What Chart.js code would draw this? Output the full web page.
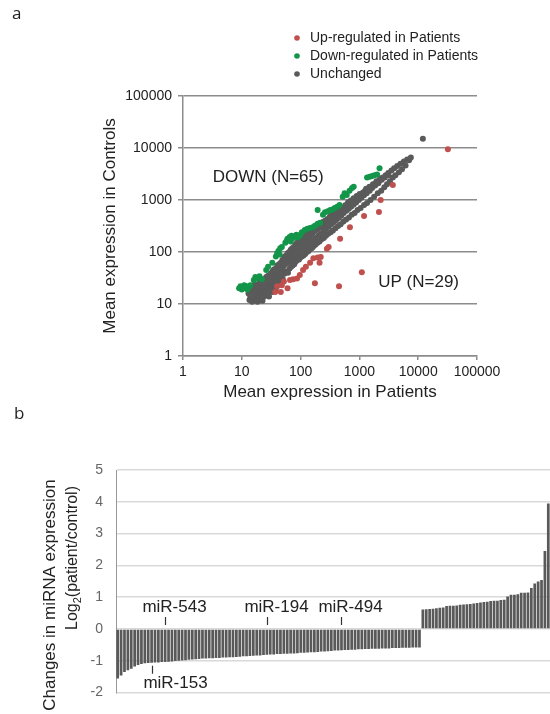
<!DOCTYPE html>
<html>
<head>
<meta charset="utf-8">
<script src="https://cdn.jsdelivr.net/npm/chart.js@4.4.1/dist/chart.umd.min.js"></script>
<style>
  html, body { margin: 0; padding: 0; background: #fff; }
  #wrap { position: relative; width: 550px; height: 714px; overflow: hidden; }
  #scatterBox { position: absolute; left: 0; top: 0; width: 550px; height: 410px; }
  #barBox { position: absolute; left: 0; top: 400px; width: 550px; height: 314px; }
</style>
</head>
<body>
<div id="wrap">
  <div id="scatterBox"><canvas id="scatterChart"></canvas></div>
  <div id="barBox"><canvas id="barChart"></canvas></div>
</div>
<script>
// ---- panel a: mean expression, [patients, controls] ----
const logTicks = [1, 10, 100, 1000, 10000, 100000];
const seriesNames = ['Up-regulated in Patients', 'Down-regulated in Patients', 'Unchanged'];

const upPoints = [
  [32000, 9500], [3700, 1950], [2300, 1000], [2150, 590], [1200, 490], [690, 300],
  [470, 180], [300, 125], [280, 115], [1100, 41], [450, 22], [175, 25],
  [165, 76], [195, 78], [220, 80], [210, 62], [145, 62], [123, 52], [110, 45],
  [97, 36], [87, 31], [75, 30], [66, 29], [52, 27], [48, 23], [60, 20],
  [37, 17], [46, 17], [40, 22]
];

const downPoints = [
  [9, 20], [9.5, 22], [10, 19], [10.5, 21], [11, 23], [11.5, 20], [12, 22], [12.5, 19], [13, 21], [14, 23],
  [16, 29], [17, 33], [18, 31], [20, 34], [22, 30], [26, 45], [28, 52], [33, 62],
  [38, 82], [40, 95], [42, 105], [44, 90], [45, 118], [48, 125],
  [55, 150], [58, 165], [60, 180], [63, 170], [65, 195], [68, 160], [70, 205], [75, 185],
  [80, 200], [85, 215], [90, 190], [98, 210], [105, 240],
  [118, 265], [130, 280], [145, 290], [160, 300], [175, 320], [195, 350], [215, 365],
  [195, 640], [240, 520], [260, 580], [290, 610], [320, 640], [350, 660], [380, 700], [420, 740], [460, 800],
  [520, 1150], [560, 1350], [610, 1250], [680, 1500], [750, 1700], [800, 1800],
  [1350, 2700], [1500, 2800], [1650, 2900], [1800, 3000], [2000, 3100], [2200, 4100]
];

const unchangedPoints = [
  [13, 16], [13.5, 12], [14, 19], [14, 14], [15, 11], [15, 17], [15.5, 21], [16, 13], [16, 16], [16.5, 24],
  [17, 12], [17, 19], [18, 15], [18, 22], [18.5, 11], [19, 18], [19, 14], [20, 25], [20, 12], [20, 20],
  [21, 16], [21, 27], [22, 13], [22, 21], [22.5, 11.5], [23, 24], [23, 17], [24, 30], [24, 14], [25, 19],
  [25, 26], [26, 15], [26, 33], [27, 21], [27, 28], [28, 17], [28, 35], [29, 24], [29, 14], [30, 31], [30, 19],
  [31, 38], [31, 22], [32, 27], [33, 17], [33, 42], [34, 30], [35, 22], [35, 46], [36, 33], [37, 25],
  [38, 48], [38, 20], [39, 36], [40, 28], [40, 55], [41, 23], [42, 40], [43, 58], [44, 30], [45, 50], [45, 26],
  [46, 62], [47, 34], [48, 44], [49, 70], [50, 30], [51, 55], [52, 80], [53, 38], [55, 62], [56, 85],
  [57, 42], [58, 72], [60, 95], [61, 40], [62, 66], [64, 100], [65, 48], [66, 80], [68, 110], [69, 52], [70, 88],
  [72, 118], [73, 55], [75, 95], [77, 125], [78, 58], [80, 105], [82, 140], [83, 66], [85, 118], [87, 150],
  [88, 70], [90, 125], [92, 160], [94, 72], [95, 132], [97, 165], [99, 78], [100, 140], [103, 175], [105, 82], [108, 150],
  [110, 185], [112, 86], [115, 160], [118, 200], [120, 92], [123, 170], [126, 215], [128, 100], [131, 185], [135, 230],
  [137, 105], [140, 200], [144, 245], [147, 115], [150, 215], [154, 255], [157, 120], [160, 230], [164, 270], [168, 130],
  [172, 250], [176, 290], [180, 140], [185, 265], [190, 310], [194, 150], [200, 285], [205, 330], [210, 160], [216, 300],
  [222, 350], [228, 175], [235, 320], [242, 380], [248, 185], [255, 345], [262, 400], [270, 205], [278, 370], [286, 430], [295, 225],
  [305, 420], [315, 480], [325, 240], [335, 450], [345, 520], [355, 260], [368, 490], [380, 560], [392, 285], [405, 540],
  [420, 620], [435, 315], [450, 580], [465, 660], [480, 340], [500, 640], [515, 720], [535, 385], [555, 700], [575, 790], [595, 420],
  [620, 820], [640, 900], [665, 460], [690, 880], [715, 980], [740, 520], [770, 960], [800, 1080], [830, 560],
  [860, 1050], [900, 1200], [930, 640], [970, 1150], [1010, 1300], [1050, 700], [1100, 1250], [1150, 1400], [1200, 800],
  [1250, 1500], [1300, 1650], [1350, 880], [1420, 1600], [1480, 1800], [1550, 1000], [1620, 1800], [1700, 2000],
  [1780, 1150], [1850, 2050], [1950, 2300], [2050, 1350], [2150, 2300], [2250, 2600], [2350, 1500], [2500, 2700],
  [2650, 1750], [2800, 3000], [2950, 2000],
  [3100, 3300], [3300, 2300], [3500, 3700], [3700, 2700], [3900, 4100], [4100, 3000], [4400, 4500], [4700, 3400],
  [5000, 5000], [5300, 3900], [5700, 5500], [6100, 4600], [6500, 6000], [7000, 5800], [7500, 6600],
  [14, 15], [17, 17], [19, 20], [22, 23], [24, 22], [27, 26], [30, 28], [33, 34], [36, 38], [40, 41],
  [44, 45], [48, 50], [52, 54], [57, 60], [62, 64], [68, 70], [74, 77], [80, 83], [88, 90], [95, 98],
  [105, 110], [115, 118], [125, 130], [138, 142], [150, 155], [165, 170], [180, 185], [200, 205], [220, 225], [245, 250],
  [270, 280], [300, 305], [330, 340], [360, 370], [400, 410], [440, 450], [490, 500], [540, 560], [600, 620], [660, 680],
  [730, 750], [800, 820], [880, 900], [980, 1000], [1080, 1100], [1200, 1230], [1330, 1350], [1500, 1500], [1650, 1700],
  [1850, 1900], [2100, 2100], [2400, 2450], [2700, 2700], [3100, 3000],
  [12000, 15000]
];

// ---- panel b: log2(patient/control), sorted ----
const downFold = [
  -1.56, -1.46, -1.35, -1.30, -1.25, -1.18, -1.13, -1.10, -1.08, -1.07,
  -1.06, -1.05, -1.05, -1.04, -1.04, -1.03, -1.02, -1.01, -1.00, -0.99,
  -0.98, -0.97, -0.96, -0.95, -0.94, -0.93, -0.93, -0.92, -0.92, -0.91,
  -0.91, -0.90, -0.90, -0.89, -0.89, -0.88, -0.87, -0.86, -0.86, -0.85,
  -0.84, -0.83, -0.83, -0.82, -0.81, -0.80, -0.80, -0.79, -0.79, -0.78,
  -0.78, -0.77, -0.77, -0.76, -0.75, -0.75, -0.74, -0.73, -0.73, -0.72,
  -0.71, -0.71, -0.70, -0.69, -0.68, -0.68, -0.67, -0.66, -0.66, -0.65,
  -0.65, -0.64, -0.64, -0.63, -0.63, -0.62, -0.62, -0.62, -0.61, -0.61,
  -0.61, -0.60, -0.60, -0.60, -0.59, -0.59, -0.59, -0.58, -0.58, -0.58
];
const upFold = [
  0.61, 0.62, 0.63, 0.64, 0.65, 0.67, 0.68, 0.72, 0.73, 0.73,
  0.74, 0.76, 0.77, 0.78, 0.79, 0.80, 0.82, 0.83, 0.85, 0.86,
  0.88, 0.89, 0.89, 0.91, 0.92, 1.02, 1.08, 1.08, 1.09, 1.14,
  1.14, 1.15, 1.29, 1.43, 1.49, 1.54, 2.45, 3.95
];
const foldValues = downFold.concat(upFold);
const mirCategories = foldValues.map((v, i) => 'miRNA ' + (i + 1));
const markedMirs = [
  { name: 'miR-153', index: 10, below: true },
  { name: 'miR-543', index: 14, below: false },
  { name: 'miR-194', index: 44, below: false },
  { name: 'miR-494', index: 66, below: false }
];

const FONT = "'Liberation Sans', Arial, sans-serif";
Chart.defaults.font.family = FONT;
Chart.defaults.animation = false;

const toXY = pts => pts.map(p => ({ x: p[0], y: p[1] }));
const logTickBuilder = scale => { scale.ticks = logTicks.map(v => ({ value: v })); };

const scatterExtras = {
    id: 'scatterExtras',
    afterDraw(chart) {
        const ctx = chart.ctx;
        const xs = chart.scales.x, ys = chart.scales.y;
        ctx.save();
        ctx.fillStyle = '#222';
        ctx.font = "17px 'Open Sans', sans-serif";
        ctx.textBaseline = 'middle';
        ctx.textAlign = 'left';
        ctx.fillText('a', 12, 14);

        // legend
        ctx.font = '14px ' + FONT;
        chart.data.datasets.forEach((ds, i) => {
            const y = 38 + i * 18;
            ctx.fillStyle = ds.backgroundColor;
            ctx.beginPath();
            ctx.arc(297, y, 2.8, 0, Math.PI * 2);
            ctx.fill();
            ctx.fillStyle = '#222';
            ctx.fillText(ds.label, 310, y);
        });

        ctx.font = '17px ' + FONT;
        ctx.fillText('DOWN (N=' + downPoints.length + ')', xs.getPixelForValue(3.2), ys.getPixelForValue(2770));
        ctx.fillText('UP (N=' + upPoints.length + ')', xs.getPixelForValue(2090), ys.getPixelForValue(26.5));
        ctx.restore();
    }
};

new Chart(document.getElementById('scatterChart'), {
    type: 'scatter',
    data: {
        datasets: [
            { label: seriesNames[0], data: toXY(upPoints), backgroundColor: '#c0504d' },
            { label: seriesNames[1], data: toXY(downPoints), backgroundColor: '#13954a' },
            { label: seriesNames[2], data: toXY(unchangedPoints), backgroundColor: '#5a5a5a' }
        ]
    },
    options: {
        responsive: true,
        maintainAspectRatio: false,
        events: [],
        elements: { point: { radius: 3, borderWidth: 0, hoverRadius: 3 } },
        layout: { padding: { left: 0, top: 96, right: 73, bottom: 0 } },
        plugins: { legend: { display: false }, tooltip: { enabled: false } },
        scales: {
            x: {
                type: 'logarithmic',
                min: 1,
                max: 100000,
                afterBuildTicks: logTickBuilder,
                afterFit: s => { s.height = 54; },
                ticks: { callback: v => String(v), autoSkip: false, maxRotation: 0, color: '#222', font: { size: 14 }, padding: 4 },
                grid: { drawOnChartArea: false, color: '#8c8c8c', lineWidth: 1.5, tickLength: 4 },
                border: { color: '#8c8c8c', width: 1.5 },
                title: { display: true, text: 'Mean expression in Patients', color: '#222', font: { size: 17 }, padding: { top: 0, bottom: 7 } }
            },
            y: {
                type: 'logarithmic',
                min: 1,
                max: 100000,
                afterBuildTicks: logTickBuilder,
                afterFit: s => { s.width = 183; },
                ticks: { callback: v => String(v), autoSkip: false, color: '#222', font: { size: 14 }, padding: 6 },
                grid: { color: '#8c8c8c', lineWidth: 1.5, tickLength: 5 },
                border: { color: '#8c8c8c', width: 1.5 },
                title: { display: true, text: 'Mean expression in Controls', color: '#222', font: { size: 17 }, padding: { top: 100, bottom: 0 } }
            }
        }
    },
    plugins: [scatterExtras]
});

const barExtras = {
    id: 'barExtras',
    afterDraw(chart) {
        const ctx = chart.ctx;
        const xs = chart.scales.x, ys = chart.scales.y;
        ctx.save();
        ctx.fillStyle = '#222';
        ctx.textBaseline = 'middle';
        ctx.font = "17px 'Open Sans', sans-serif";
        ctx.textAlign = 'left';
        ctx.fillText('b', 14, 14);

        // two-line y title, rotated
        ctx.save();
        ctx.translate(50, 195);
        ctx.rotate(-Math.PI / 2);
        ctx.textAlign = 'center';
        ctx.font = '17px ' + FONT;
        ctx.fillText('Changes in miRNA expression', 0, 0);
        ctx.restore();

        ctx.save();
        ctx.translate(73, 158);
        ctx.rotate(-Math.PI / 2);
        ctx.textAlign = 'left';
        const main = '16px ' + FONT, sub = '11px ' + FONT;
        ctx.font = main;
        const w1 = ctx.measureText('Log').width;
        const w3 = ctx.measureText('(patient/control)').width;
        ctx.font = sub;
        const w2 = ctx.measureText('2').width;
        let x0 = -(w1 + w2 + w3) / 2;
        ctx.font = main;
        ctx.fillText('Log', x0, 0);
        ctx.font = sub;
        ctx.fillText('2', x0 + w1, 5);
        ctx.font = main;
        ctx.fillText('(patient/control)', x0 + w1 + w2, 0);
        ctx.restore();

        // marked miRNAs
        ctx.font = '17px ' + FONT;
        ctx.textAlign = 'center';
        ctx.strokeStyle = '#333';
        ctx.lineWidth = 1.2;
        const zeroY = ys.getPixelForValue(0);
        markedMirs.forEach(m => {
            const x = Math.round(xs.getPixelForValue(m.index)) + 0.5;
            ctx.beginPath();
            if (m.below) {
                const endY = ys.getPixelForValue(foldValues[m.index]);
                ctx.moveTo(x, endY + 3);
                ctx.lineTo(x, endY + 11);
                ctx.stroke();
                ctx.fillText(m.name, x + 23, endY + 21);
            } else {
                ctx.moveTo(x, zeroY - 12);
                ctx.lineTo(x, zeroY - 4);
                ctx.stroke();
                ctx.fillText(m.name, x + 9, zeroY - 22);
            }
        });
        ctx.restore();
    }
};

new Chart(document.getElementById('barChart'), {
    type: 'bar',
    data: {
        labels: mirCategories,
        datasets: [{
            label: 'log2 fold change',
            data: foldValues,
            backgroundColor: '#595959',
            barPercentage: 0.8,
            categoryPercentage: 1.0
        }]
    },
    options: {
        responsive: true,
        maintainAspectRatio: false,
        events: [],
        layout: { padding: { left: 0, top: 70, right: 0, bottom: 5 } },
        plugins: { legend: { display: false }, tooltip: { enabled: false } },
        scales: {
            x: { type: 'category', display: false, offset: true },
            y: {
                min: -2,
                max: 5,
                afterFit: s => { s.width = 116; },
                ticks: { stepSize: 1, color: '#666', font: { size: 14 }, padding: 13 },
                grid: { color: '#d9d9d9', lineWidth: 1.5, drawTicks: false },
                border: { color: '#999', width: 1 }
            }
        }
    },
    plugins: [barExtras]
});
</script>
</body>
</html>
